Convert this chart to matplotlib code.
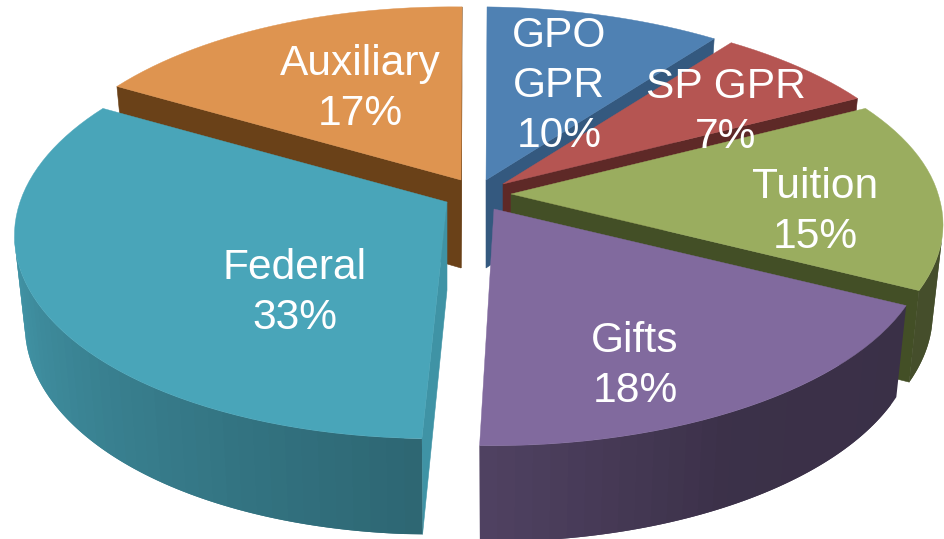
import numpy as np
import matplotlib
matplotlib.use("Agg")
import matplotlib.pyplot as plt
from matplotlib.patches import Polygon

plt.rcParams['font.family'] = ['Liberation Sans', 'DejaVu Sans']

# data
names = ["GPO\nGPR", "SP GPR", "Tuition", "Gifts", "Federal", "Auxiliary"]
values = [10, 7, 15, 18, 33, 17]

# styles
top_colors = ["#4f81b3", "#b55552", "#9aad5f", "#816a9e", "#49a5b9", "#de9450"]
side_colors = ["#34597f", "#5e2927", "#434f26", "#3e2f4b", "#3f93a5", "#6a4118"]
apexes = {"GPO\nGPR": (486, 180), "SP GPR": (503, 184), "Tuition": (511, 194),
          "Gifts": (494, 209), "Federal": (447, 202), "Auxiliary": (461, 180)}
skews = {"Gifts": 9.0}
label_pos = {"GPO\nGPR": (559, 86), "SP GPR": (726, 112), "Tuition": (815, 212),
             "Gifts": (635, 366), "Federal": (295, 293), "Auxiliary": (360, 89)}
draw_order = ["Auxiliary", "GPO\nGPR", "SP GPR", "Tuition", "Federal", "Gifts"]

RX, RY, PERSP, ROT = 427.0, 200.0, 0.155, 1.5
DEPTH, DEPTH_P, LEAN = 88.0, 0.09, 0.024


def project(apex, r, theta_deg, z=0.0, skew=0.0):
    t = np.radians(theta_deg + ROT)
    w = 1 + PERSP * r * np.cos(t)
    tb = np.radians(theta_deg)
    adj = -10 + 10 * np.sin(tb) ** 2 + skew * max(0.0, -np.cos(tb))
    if 0 < theta_deg < 90:
        adj += 3 * np.sin(2 * tb)
    X = r * (RX * np.sin(t) + adj) / w
    Y = -r * RY * np.cos(t) / w
    f = z * (1 - DEPTH_P * r * np.cos(t))
    return apex[0] + X * (1 - LEAN * z), apex[1] + Y + DEPTH * f


def front_facing(pts):
    p = np.array(pts)
    q = np.roll(p, -1, axis=0)
    return np.sum(p[:, 0] * q[:, 1] - q[:, 0] * p[:, 1]) < 0


def shade(theta):
    return np.interp(theta % 360, [0, 115, 150, 180, 270, 360],
                     [0.45, 0.45, 0.46, 0.62, 0.95, 0.95])


fig = plt.figure(figsize=(9.44, 5.39), dpi=100)
ax = fig.add_axes([0, 0, 1, 1])
ax.set_xlim(0, 944)
ax.set_ylim(539, 0)
ax.axis("off")

edges = np.concatenate([[0], np.cumsum(values)]) * 3.6
total_order = [names.index(n) for n in draw_order]

for i in total_order:
    name = names[i]
    a = apexes[name]
    sk = skews.get(name, 0.0)
    th0, th1 = edges[i], edges[i + 1]
    thetas = np.linspace(th0, th1, max(2, int(th1 - th0) // 2 + 1))
    side = side_colors[i]
    base = np.array(matplotlib.colors.to_rgb(top_colors[i]))

    # radial cut faces
    for r_a, th_a, r_b, th_b in [(0, th0, 1, th0), (1, th1, 0, th1)]:
        quad = [project(a, r_a, th_a, 0, sk), project(a, r_b, th_b, 0, sk),
                project(a, r_b, th_b, 1, sk), project(a, r_a, th_a, 1, sk)]
        if front_facing(quad):
            ax.add_patch(Polygon(quad, closed=True, fc=side, ec=side, lw=0.4))

    # outer wall, overlapping strips so no seams show
    for t0, t1 in zip(thetas[:-1], thetas[1:]):
        t_end = min(t1 + (t1 - t0), th1)
        quad = [project(a, 1, t0, 0, sk), project(a, 1, t1, 0, sk),
                project(a, 1, t1, 1, sk), project(a, 1, t0, 1, sk)]
        if front_facing(quad):
            c = base * shade((t0 + t1) / 2)
            wide = [project(a, 1, t, 0, sk) for t in np.linspace(t0, t_end, 4)]
            wide += [project(a, 1, t, 1, sk) for t in np.linspace(t_end, t0, 4)]
            ax.add_patch(Polygon(wide, closed=True, fc=c, ec="none"))

    # top face
    outline = [project(a, 0, th0, 0, sk)] + [project(a, 1, t, 0, sk) for t in thetas]
    ax.add_patch(Polygon(outline, closed=True, fc=top_colors[i],
                         ec=top_colors[i], lw=0.3))

for name, v in zip(names, values):
    x, y = label_pos[name]
    ax.text(x, y, f"{name}\n{v}%", color="white", fontsize=30.6, ha="center",
            va="center", linespacing=1.32)

fig.savefig("out.png", dpi=100, facecolor="white")
